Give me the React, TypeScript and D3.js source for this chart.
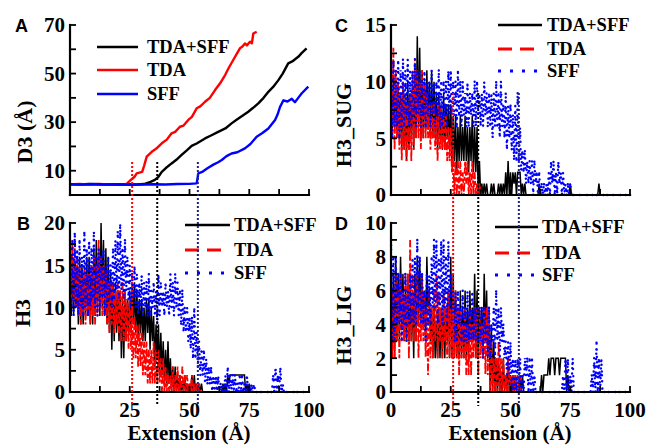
import React from 'react';
import * as d3 from 'd3';

const W = 647;
const H = 445;
const FONT = "'Liberation Serif', 'Times New Roman', serif";
const SANS = "'Liberation Sans', Arial, sans-serif";

const seriesNames = ['TDA+SFF', 'TDA', 'SFF'];
const seriesColors = ['#000000', '#ff0000', '#0000ff'];
const xTickLabels = [0, 25, 50, 75, 100];
const markerX = [26, 36.5, 53.5];
const markerColors = ['#ff0000', '#000000', '#23237f'];

// ---- Panel A: D3 (Å) vs extension ----
const aTdaSffX = [0, 4, 8, 12, 16, 20, 24, 28, 31, 33.7, 35.5, 37, 38.4, 40, 42.5, 44.5, 46.7, 49, 50.9, 53, 56.5, 59, 62, 65, 67.6, 70, 72, 74.6, 76.5, 78.8, 81, 83, 85, 87.2, 89, 91.3, 93, 95.5, 97, 99];
const aTdaSffY = [4.4, 4.3, 4.5, 4.3, 4.4, 4.2, 4.4, 4.3, 4.5, 5.4, 6.2, 7.5, 9.5, 11, 13, 14.5, 16.5, 18.5, 20.2, 21.2, 23.3, 24.5, 26, 27.4, 29.5, 31.2, 32.5, 34.3, 35.8, 37.7, 40, 42.5, 44.5, 47.3, 50, 54.2, 55, 56.9, 58.5, 60.4];
const aTdaX = [0, 4, 8, 12, 16, 20, 23.7, 25.8, 27, 27.9, 30.2, 31, 32.1, 34.2, 36, 38.4, 40.5, 42.5, 44, 46, 47.5, 49.5, 51, 53, 54.5, 56.5, 58.5, 60.7, 62.8, 64.9, 66.5, 68.3, 70, 71.1, 72, 73.2, 74, 75.3, 76.1, 76.7, 78.1];
const aTdaY = [4.3, 4.5, 4.2, 4.6, 4.3, 4.4, 4.6, 6.5, 7.5, 8.9, 9.5, 12, 15.8, 17.8, 19, 21.3, 22.8, 25.4, 26, 28.1, 28.6, 30.9, 32.2, 35.7, 36.5, 38.4, 40, 43.2, 46, 49.4, 52.5, 55.6, 58.5, 60.4, 61, 62.4, 61.6, 63.1, 62.5, 66.5, 67.2];
const aSffX = [0, 5, 10, 15, 20, 25, 30, 35, 40, 45, 50, 53, 53.7, 55.3, 57.5, 60, 62, 63.5, 65.5, 67.6, 70, 73.2, 75.5, 78.1, 80.5, 83, 85.8, 86.8, 87.9, 89.3, 91, 92.8, 94.1, 95.5, 96.9, 99.7];
const aSffY = [4.4, 4.3, 4.5, 4.3, 4.4, 4.2, 4.3, 4.4, 4.3, 4.5, 4.6, 4.8, 8.9, 9.5, 11, 12.5, 13.5, 14.4, 16, 17.1, 17.6, 19.2, 21, 24, 25.5, 27.4, 30.9, 33, 36.3, 39, 38.5, 39.6, 38.2, 40, 41.8, 44.6];

// ---- Panel B: H3 (high / low of each 1 Å bin) ----
const bTdaSffHi = [17, 16, 15, 15, 16, 15, 14, 16, 16, 15, 17, 18, 17, 20, 18, 17, 16, 14, 13, 13, 12, 12, 11, 12, 11, 12, 13, 13, 12, 11, 11, 10, 11, 11, 10, 9, 8, 8, 7, 6, 5, 6, 4, 3, 3, 2, 2, 1, 2, 1, 1, 2, 2, 1, 1, 1, 0, 0, 0, 0, 0, 0, 0, 0, 1, 1, 2, 2, 2, 2, 2, 2, 2, 2, 1, 1, 0];
const bTdaSffLo = [9, 9, 10, 8, 8, 8, 9, 9, 8, 8, 9, 10, 9, 10, 9, 8, 7, 5, 6, 7, 6, 4, 4, 6, 7, 7, 8, 7, 6, 7, 6, 6, 7, 5, 6, 3, 4, 2, 2, 1, 1, 1, 0, 0, 0, 0, 0, 0, 0, 0, 0, 0, 0, 0, 0, 0, 0, 0, 0, 0, 0, 0, 0, 0, 0, 0, 1, 2, 2, 2, 2, 2, 2, 0, 0, 0, 0];
const bTdaHi = [18, 18, 17, 16, 15, 14, 15, 14, 14, 15, 16, 15, 18, 16, 15, 14, 13, 13, 13, 12, 13, 12, 13, 12, 11, 11, 10, 9, 8, 8, 7, 6, 6, 5, 5, 6, 5, 5, 4, 4, 3, 2, 2, 3, 2, 3, 2, 3, 2, 2, 1, 2, 1, 1, 1, 0];
const bTdaLo = [11, 10, 10, 9, 8, 9, 8, 9, 8, 9, 8, 9, 10, 9, 9, 8, 7, 8, 7, 8, 7, 6, 6, 6, 5, 5, 4, 4, 3, 3, 2, 2, 1, 1, 1, 1, 1, 1];
const bSffHi = [18, 18, 19, 17, 18, 16, 19, 17, 18, 17, 19, 16, 17, 16, 17, 15, 16, 15, 17, 18, 19, 20, 17, 18, 16, 15, 14, 15, 14, 13, 14, 13, 13, 14, 12, 13, 12, 14, 13, 12, 13, 12, 14, 13, 14, 13, 12, 12, 10, 10, 9, 9, 10, 7, 6, 5, 5, 4, 3, 3, 2, 2, 2, 1, 1, 2, 3, 2, 2, 2, 1, 2, 2, 1, 2, 1, 1, 1, 0, 0, 0, 0, 0, 0, 0, 2, 3, 2, 3, 1, 0];
const bSffLo = [10, 9, 10, 9, 10, 9, 10, 9, 10, 11, 10, 9, 10, 11, 9, 10, 11, 10, 11, 12, 11, 12, 11, 12, 11, 10, 11, 10, 9, 10, 9, 10, 9, 9, 10, 9, 8, 9, 10, 9, 10, 9, 10, 9, 10, 9, 8, 7, 7, 6, 5, 4, 4, 3, 2, 2, 1, 1, 1];

// ---- Panel C: H3_SUG ----
const cTdaSffHi = [10, 10, 9, 10, 9, 10, 9, 10, 9, 10, 11, 14, 13, 11, 10, 11, 10, 11, 10, 9, 9, 8, 9, 8, 8, 8, 7, 7, 6, 7, 6, 7, 6, 6, 7, 6, 6, 3, 1, 1, 1, 0, 1, 1, 0, 1, 1, 1, 2, 3, 2, 2, 2, 2, 2, 1, 1, 0, 0, 0, 0, 0, 1, 0, 0, 0, 0, 0, 0, 0, 0, 0, 0, 0, 0, 1, 0, 0, 0, 0, 0, 0, 0, 0, 0, 0, 0, 1, 0];
const cTdaSffLo = [5, 6, 5, 5, 4, 4, 3, 4, 5, 4, 5, 6, 5, 5, 6, 6, 5, 5, 5, 4, 5, 4, 4, 5, 4, 3, 3, 2, 3, 3, 3, 3, 2, 3, 2, 2, 0, 0, 0, 0, 0, 0, 0, 0, 0, 0, 0, 0, 0, 0, 0, 1, 0, 2];
const cTdaHi = [12, 13, 11, 10, 9, 10, 9, 8, 9, 11, 12, 11, 10, 11, 10, 9, 8, 8, 8, 7, 8, 8, 7, 7, 6, 6, 4, 3, 3, 3, 2, 3, 3, 2, 3, 2, 1, 1, 0];
const cTdaLo = [5, 4, 5, 4, 3, 4, 3, 4, 3, 4, 5, 5, 4, 5, 5, 5, 4, 5, 4, 3, 4, 4, 4, 3, 3, 2, 0, 0, 0, 0, 0, 1];
const cSffHi = [11, 12, 11, 12, 11, 12, 11, 12, 11, 11, 12, 11, 11, 10, 11, 10, 10, 11, 10, 10, 11, 10, 10, 10, 11, 11, 10, 10, 11, 10, 10, 9, 10, 9, 9, 10, 10, 9, 9, 10, 9, 9, 9, 9, 10, 9, 10, 8, 9, 8, 8, 7, 8, 9, 6, 4, 4, 3, 3, 3, 3, 2, 2, 1, 1, 1, 2, 3, 3, 2, 3, 2, 2, 1, 1, 1, 0];
const cSffLo = [5, 6, 6, 5, 6, 6, 7, 6, 6, 7, 6, 7, 6, 7, 6, 7, 6, 7, 6, 7, 6, 6, 7, 6, 7, 6, 7, 6, 7, 6, 7, 6, 6, 7, 6, 6, 7, 6, 6, 7, 6, 6, 5, 6, 6, 5, 6, 5, 4, 5, 4, 3, 3, 3, 2, 2, 1, 1, 1, 0, 1, 0, 0, 0, 0, 0, 0, 1, 0, 0, 1];

// ---- Panel D: H3_LIG ----
const dTdaSffHi = [8, 7, 8, 7, 8, 7, 6, 7, 6, 6, 7, 8, 8, 7, 6, 8, 6, 5, 5, 4, 5, 5, 6, 5, 6, 8, 7, 6, 5, 6, 5, 6, 5, 6, 5, 7, 6, 5, 5, 7, 6, 5, 4, 3, 2, 2, 1, 2, 1, 2, 1, 1, 1, 0, 1, 1, 0, 0, 0, 0, 0, 0, 0, 1, 1, 1, 2, 2, 2, 2, 2, 2, 2, 2, 1, 0];
const dTdaSffLo = [2, 2, 3, 3, 4, 3, 3, 3, 3, 2, 3, 4, 4, 4, 3, 5, 3, 2, 2, 2, 2, 2, 2, 3, 2, 2, 2, 2, 2, 2, 2, 2, 2, 3, 3, 2, 2, 3, 2, 3, 2, 0, 0, 0, 0, 0, 0, 0, 0, 0, 0, 0, 0, 0, 0, 0, 0, 0, 0, 0, 0, 0, 0, 0, 1, 1, 1, 2, 1, 2, 1, 2, 2, 0, 0, 0];
const dTdaHi = [7, 6, 7, 6, 7, 6, 7, 7, 9, 7, 6, 7, 6, 7, 6, 5, 6, 5, 6, 7, 6, 5, 6, 5, 6, 5, 5, 6, 5, 5, 4, 5, 4, 5, 4, 5, 5, 5, 4, 5, 5, 5, 3, 2, 2, 3, 2, 2, 1, 2, 1, 1, 1, 1, 1, 0];
const dTdaLo = [2, 2, 3, 2, 3, 3, 3, 2, 3, 3, 3, 2, 3, 3, 2, 1, 2, 2, 3, 2, 3, 2, 3, 2, 2, 2, 2, 2, 1, 2, 2, 1, 1, 1, 2, 2, 1, 2, 2, 1, 1];
const dSffHi = [9, 8, 8, 7, 7, 6, 7, 6, 7, 8, 8, 9, 8, 7, 6, 7, 7, 8, 9, 9, 8, 9, 9, 8, 9, 7, 6, 6, 6, 5, 6, 5, 6, 5, 6, 5, 5, 5, 5, 5, 4, 5, 4, 5, 6, 5, 5, 4, 3, 3, 3, 2, 2, 2, 2, 1, 2, 2, 2, 2, 1, 0, 0, 0, 0, 0, 0, 0, 0, 0, 0, 0, 1, 2, 2, 1, 2, 0, 0, 0, 0, 0, 0, 0, 1, 2, 3, 2, 2, 0];
const dSffLo = [3, 3, 4, 4, 3, 4, 3, 4, 4, 4, 4, 5, 4, 4, 3, 4, 4, 5, 5, 4, 5, 4, 5, 4, 5, 4, 3, 3, 4, 3, 3, 3, 3, 3, 3, 3, 3, 3, 2, 3, 2, 2, 3, 2, 3, 2, 3, 2, 1, 1, 0, 0, 0, 0, 0, 0, 1];

type Pt = [number, number];

function noisyPoints(hi: number[], lo: number[]): Pt[] {
  const pts: Pt[] = [];
  hi.forEach((h, i) => {
    pts.push([i, h]);
    pts.push([i + 0.5, lo[i] ?? 0]);
  });
  pts.push([hi.length, 0]);
  pts.push([100, 0]);
  return pts;
}

const noisyStyles = [
  { stroke: '#000000', strokeWidth: 1.5 },
  { stroke: '#ff0000', strokeWidth: 1.8, strokeDasharray: '6,2,3,2.5,8,2,4,3' },
  {
    stroke: '#0000ff',
    strokeWidth: 2.4,
    strokeDasharray: '0.1,5.3,0.1,4.1,0.1,6.7,0.1,3.6,0.1,5.9,0.1,7.2',
    strokeLinecap: 'round' as const,
  },
];

function Axes(props: {
  xs: d3.ScaleLinear<number, number>;
  ys: d3.ScaleLinear<number, number>;
  yTickStep: number;
  yLabels: number[];
  showXLabels: boolean;
}) {
  const { xs, ys, yTickStep, yLabels, showXLabels } = props;
  const [x0, x1] = xs.range();
  const [yb, yt] = ys.range();
  const yTicks = d3.range(0, ys.domain()[1] + 1e-9, yTickStep);
  const xTicks = d3.range(0, 100.001, 12.5);
  return (
    <g>
      {yTicks.map((t) => (
        <line key={'yt' + t} x1={x0} x2={x0 + 6} y1={ys(t)} y2={ys(t)} stroke="#000" strokeWidth={1.8} />
      ))}
      {xTicks.map((t) => (
        <line key={'xt' + t} x1={xs(t)} x2={xs(t)} y1={yb} y2={yb - 6} stroke="#000" strokeWidth={1.8} />
      ))}
      <line x1={x0} x2={x0} y1={yt} y2={yb} stroke="#000" strokeWidth={2.2} strokeLinecap="square" />
      <line x1={x0} x2={x1} y1={yb} y2={yb} stroke="#000" strokeWidth={2.2} strokeLinecap="square" />
      {yLabels.map((t) => (
        <text key={'yl' + t} x={x0 - 5} y={ys(t)} dy="0.35em" textAnchor="end" fontSize={21} fontWeight="bold" fontFamily={FONT}>
          {t}
        </text>
      ))}
      {showXLabels &&
        xTickLabels.map((t) => (
          <text key={'xl' + t} x={xs(t)} y={yb + 25} textAnchor="middle" fontSize={21} fontWeight="bold" fontFamily={FONT}>
            {t}
          </text>
        ))}
    </g>
  );
}

function Legend(props: { x1: number; x2: number; tx: number; ys: number[]; solid: boolean }) {
  const { x1, x2, tx, ys, solid } = props;
  return (
    <g>
      {seriesNames.map((name, i) => {
        let style: any = { stroke: seriesColors[i], strokeWidth: 2.6 };
        let end = x2;
        if (!solid && i === 1) {
          style = { stroke: seriesColors[i], strokeWidth: 3, strokeDasharray: '14,8' };
          end = x2 - 8;
        }
        if (!solid && i === 2) {
          style = { stroke: seriesColors[i], strokeWidth: 3, strokeDasharray: '3,9' };
          end = x2 - 3;
        }
        return (
          <g key={name}>
            <line x1={x1} x2={end} y1={ys[i]} y2={ys[i]} {...style} />
            <text x={tx} y={ys[i]} dy="0.35em" fontSize={18.5} fontWeight="bold" fontFamily={FONT}>
              {name}
            </text>
          </g>
        );
      })}
    </g>
  );
}

export default function App() {
  const xL = d3.scaleLinear().domain([0, 100]).range([70, 309]);
  const xR = d3.scaleLinear().domain([0, 100]).range([391, 630]);
  const yA = d3.scaleLinear().domain([0, 70]).range([195, 25]);
  const yB = d3.scaleLinear().domain([0, 20]).range([392, 223]);
  const yC = d3.scaleLinear().domain([0, 15]).range([195, 25]);
  const yD = d3.scaleLinear().domain([0, 10]).range([392, 223]);

  const mk = (xs: d3.ScaleLinear<number, number>, ys: d3.ScaleLinear<number, number>) =>
    d3.line<Pt>().x((d) => xs(d[0])).y((d) => ys(d[1]));
  const lineA = mk(xL, yA);
  const lineB = mk(xL, yB);
  const lineC = mk(xR, yC);
  const lineD = mk(xR, yD);

  const zip = (xs: number[], ys: number[]): Pt[] => xs.map((x, i) => [x, ys[i]]);
  const aSeries = [zip(aTdaSffX, aTdaSffY), zip(aTdaX, aTdaY), zip(aSffX, aSffY)];
  const bSeries = [noisyPoints(bTdaSffHi, bTdaSffLo), noisyPoints(bTdaHi, bTdaLo), noisyPoints(bSffHi, bSffLo)];
  const cSeries = [noisyPoints(cTdaSffHi, cTdaSffLo), noisyPoints(cTdaHi, cTdaLo), noisyPoints(cSffHi, cSffLo)];
  const dSeries = [noisyPoints(dTdaSffHi, dTdaSffLo), noisyPoints(dTdaHi, dTdaLo), noisyPoints(dSffHi, dSffLo)];

  return (
    <svg width={W} height={H} style={{ position: 'absolute', left: 0, top: 0, background: '#fff' }}>
      <rect x={0} y={0} width={W} height={H} fill="#fff" />

      {/* Panel A */}
      {aSeries.map((s, i) => (
        <path key={'a' + i} d={lineA(s) || ''} fill="none" stroke={seriesColors[i]} strokeWidth={2.4} strokeLinejoin="round" />
      ))}
      <Axes xs={xL} ys={yA} yTickStep={10} yLabels={[10, 30, 50, 70]} showXLabels={false} />
      <Legend x1={97} x2={138} tx={147} ys={[47, 70, 94]} solid={true} />

      {/* Panel B */}
      {bSeries.map((s, i) => (
        <path key={'b' + i} d={lineB(s) || ''} fill="none" {...noisyStyles[i]} />
      ))}
      <Axes xs={xL} ys={yB} yTickStep={2.5} yLabels={[0, 5, 10, 15, 20]} showXLabels={true} />
      <Legend x1={185} x2={230} tx={234} ys={[225, 250, 273]} solid={false} />

      {/* Panel C */}
      {cSeries.map((s, i) => (
        <path key={'c' + i} d={lineC(s) || ''} fill="none" {...noisyStyles[i]} />
      ))}
      <Axes xs={xR} ys={yC} yTickStep={2.5} yLabels={[0, 5, 10, 15]} showXLabels={false} />
      <Legend x1={498} x2={542} tx={547} ys={[25, 49, 71]} solid={false} />

      {/* Panel D */}
      {dSeries.map((s, i) => (
        <path key={'d' + i} d={lineD(s) || ''} fill="none" {...noisyStyles[i]} />
      ))}
      <Axes xs={xR} ys={yD} yTickStep={1} yLabels={[0, 2, 4, 6, 8, 10]} showXLabels={true} />
      <Legend x1={495} x2={538} tx={542} ys={[227, 253, 275]} solid={false} />

      {/* Vertical markers */}
      {markerX.map((m, i) => (
        <g key={'m' + i}>
          <line x1={xL(m)} x2={xL(m)} y1={162} y2={406} stroke={markerColors[i]} strokeWidth={2} strokeDasharray="2,2" />
          <line x1={xR(m)} x2={xR(m)} y1={93} y2={406} stroke={markerColors[i]} strokeWidth={2} strokeDasharray="2,2" />
        </g>
      ))}

      {/* Axis titles */}
      <text transform="translate(32,132) rotate(-90)" textAnchor="middle" fontSize={22} fontWeight="bold" fontFamily={FONT}>D3 (Å)</text>
      <text transform="translate(30,313) rotate(-90)" textAnchor="middle" fontSize={22} fontWeight="bold" fontFamily={FONT}>H3</text>
      <text transform="translate(351,125) rotate(-90)" textAnchor="middle" fontSize={22} fontWeight="bold" fontFamily={FONT}>H3_SUG</text>
      <text transform="translate(351,325) rotate(-90)" textAnchor="middle" fontSize={22} fontWeight="bold" fontFamily={FONT}>H3_LIG</text>
      <text x={189} y={440} textAnchor="middle" fontSize={21} fontWeight="bold" fontFamily={FONT}>Extension (Å)</text>
      <text x={510} y={440} textAnchor="middle" fontSize={21} fontWeight="bold" fontFamily={FONT}>Extension (Å)</text>

      {/* Panel letters */}
      <text x={15} y={32} fontSize={18} fontWeight="bold" fontFamily={SANS}>A</text>
      <text x={17} y={230} fontSize={18} fontWeight="bold" fontFamily={SANS}>B</text>
      <text x={335} y={32} fontSize={18} fontWeight="bold" fontFamily={SANS}>C</text>
      <text x={335} y={230} fontSize={18} fontWeight="bold" fontFamily={SANS}>D</text>
    </svg>
  );
}
